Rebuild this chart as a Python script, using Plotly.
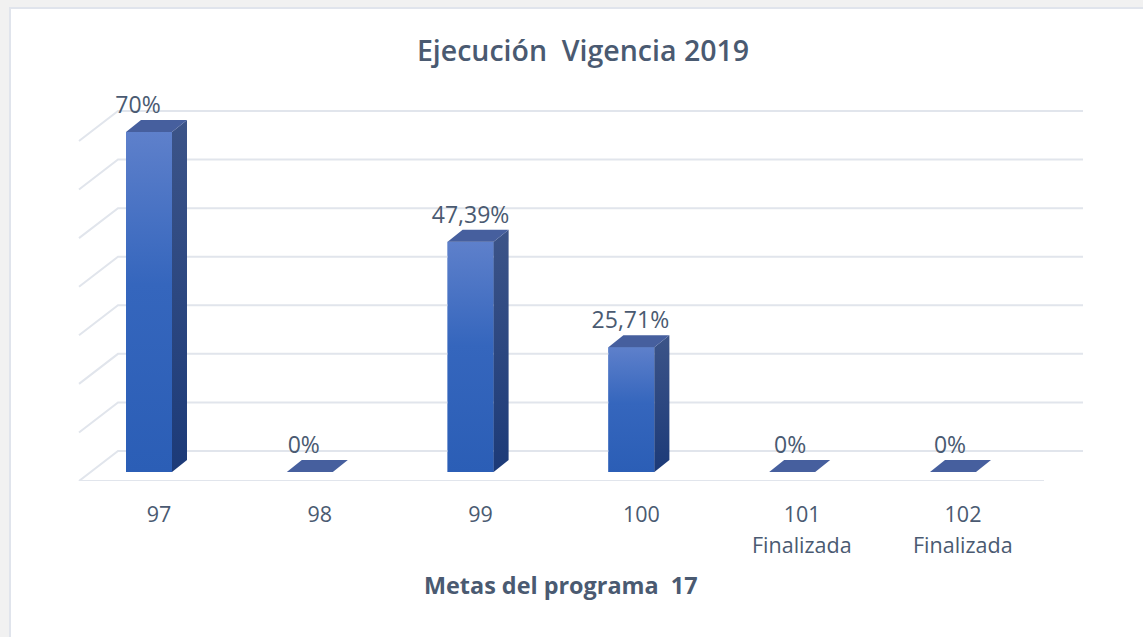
import plotly.graph_objects as go

categories = ["97", "98", "99", "100", "101", "102"]
notes = ["", "", "", "", "Finalizada", "Finalizada"]
values = [70, 0, 47.39, 25.71, 0, 0]
value_labels = ["70%", "0%", "47,39%", "25,71%", "0%", "0%"]
grid_levels = [0, 10, 20, 30, 40, 50, 60, 70]
chart_title = "Ejecución  Vigencia 2019"
axis_title = "Metas del programa  17"

W, H = 1143, 637
PX_PER_CAT, PX_PER_VAL = 160.8, 4.857
X0_PX, Y0_PX, FLOOR_PX = 149, 472, 481
TEXT = "#4A5A71"
GRID = "#E1E5EC"


def dx(px):
    return px / PX_PER_CAT


def dy(px):
    return px / PX_PER_VAL


bar_w = dx(46)
depth_x, depth_y = dx(15), dy(12)
wall_y = dy(21)
label_shift = [-11, -6, 0, -1, -2, -3]

fig = go.Figure()


def line(xs, ys):
    fig.add_trace(go.Scatter(x=xs, y=ys, mode="lines", hoverinfo="skip",
                             line=dict(color=GRID, width=2)))


for lv in grid_levels:
    back = lv + wall_y
    line([dx(79 - X0_PX), dx(118 - X0_PX), dx(1083 - X0_PX)],
         [back - dy(30), back, back])
line([dx(79 - X0_PX), dx(1044 - X0_PX)], [dy(Y0_PX - FLOOR_PX)] * 2)

xs = list(range(len(categories)))
fig.add_trace(go.Bar(x=xs, y=values, width=bar_w, marker=dict(color="#3F6CBE", line_width=0),
                     hoverinfo="skip"))


def face(px, py, stops=None, color=None):
    kw = dict(fillgradient=dict(type="vertical", colorscale=stops)) if stops else dict(fillcolor=color)
    fig.add_trace(go.Scatter(x=px, y=py, mode="lines", fill="toself", hoverinfo="skip",
                             line=dict(width=0, color="rgba(0,0,0,0)"), **kw))


for i, v in zip(xs, values):
    l, r = i - bar_w / 2, i + bar_w / 2
    if v > 0:
        face([l, r, r, l, l], [0, 0, v, v, 0],
             stops=[[0, "#2B5EB6"], [0.55, "#3566BD"], [1, "#5E80CB"]])
        face([r, r + depth_x, r + depth_x, r, r],
             [0, depth_y, v + depth_y, v, 0],
             stops=[[0, "#1C3A78"], [1, "#3C5488"]])
    face([l, r, r + depth_x, l + depth_x, l],
         [v, v, v + depth_y, v + depth_y, v], color="#465F9E")

fig.add_trace(go.Scatter(
    x=[i + dx(s) for i, s in zip(xs, label_shift)],
    y=[v + dy(25) for v in values],
    mode="text", text=value_labels, textposition="middle center",
    textfont=dict(family="Open Sans", size=23, color=TEXT), hoverinfo="skip"))

annotations = [
    dict(x=i, y=1 - 544 / H, xref="x", yref="paper", text=n, showarrow=False,
         xanchor="center", yanchor="middle", xshift=10,
         font=dict(family="Open Sans", size=21.5, color=TEXT))
    for i, n in zip(xs, notes) if n
]
annotations.append(dict(x=561 / W, y=1 - 585 / H, xref="paper", yref="paper", text=axis_title,
                        showarrow=False, xanchor="center", yanchor="middle",
                        font=dict(family="Open Sans", size=23.4, color=TEXT, weight=700)))

fig.update_layout(
    width=W, height=H, autosize=False,
    margin=dict(l=0, r=0, t=0, b=0),
    paper_bgcolor="#F1F1F1", plot_bgcolor="rgba(0,0,0,0)",
    showlegend=False,
    title=dict(text=chart_title, x=583 / W, xanchor="center", y=1 - 51 / H, yanchor="middle",
               font=dict(family="Open Sans", size=28.5, color=TEXT, weight=600)),
    annotations=annotations,
    shapes=[dict(type="rect", xref="paper", yref="paper", layer="below",
                 x0=10 / W, x1=1.01, y0=-0.01, y1=1 - 8 / H,
                 fillcolor="white", line=dict(color="#E0E4EC", width=2))],
    xaxis=dict(range=[-X0_PX / PX_PER_CAT, (W - X0_PX) / PX_PER_CAT],
               domain=[0, 1], tickmode="array", tickvals=xs, ticktext=categories,
               showgrid=False, zeroline=False, showline=False, ticks="",
               ticklabelstandoff=18, ticklabelshift=10,
               tickfont=dict(family="Open Sans", size=21.5, color=TEXT)),
    yaxis=dict(range=[(Y0_PX - FLOOR_PX) / PX_PER_VAL, Y0_PX / PX_PER_VAL],
               domain=[1 - FLOOR_PX / H, 1], visible=False),
)
fig.write_html("out.html", config=dict(displayModeBar=False),
               post_script="document.body.style.margin='0';document.body.style.overflow='hidden';")
